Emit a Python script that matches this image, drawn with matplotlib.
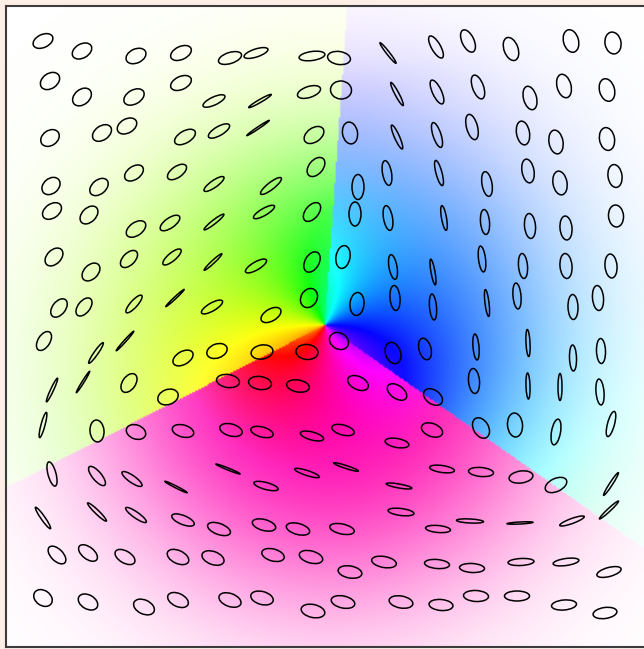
import numpy as np
import matplotlib.pyplot as plt
from matplotlib.patches import Ellipse
from matplotlib.colors import hsv_to_rgb

# polarization ellipses, read row by row (pixel coords, y down)
# tilt = visual angle of major axis in degrees, counterclockwise
x_pos = [
    43, 82, 136, 181, 230, 256, 312, 339, 388, 436, 468, 511, 571, 613,
    50, 82, 134, 181, 214, 260, 309, 341, 397, 437, 478, 530, 564, 607,
    50, 102, 127, 185, 219, 258, 314, 350, 397, 437, 472, 523, 556, 607,
    51, 99, 134, 177, 214, 271, 316, 358, 387, 439, 487, 528, 560, 615,
    52, 89, 136, 170, 214, 264, 312, 355, 388, 444, 485, 530, 566, 616,
    54, 91, 129, 172, 213, 256, 312, 343, 393, 433, 482, 523, 566, 611,
    59, 84, 134, 175, 212, 271, 309, 357, 395, 433, 487, 517, 573, 598,
    44, 96, 125, 183, 217, 262, 307, 339, 393, 425, 476, 528, 573, 601,
    52, 83, 129, 168, 228, 260, 298, 358, 397, 433, 474, 528, 560, 600,
    43, 97, 136, 183, 231, 262, 312, 343, 397, 432, 481, 515, 556, 611,
    52, 97, 132, 176, 228, 266, 307, 346, 399, 442, 481, 521, 556, 611,
    43, 97, 136, 183, 219, 264, 298, 342, 401, 438, 470, 520, 572, 609,
    57, 88, 125, 178, 213, 273, 311, 350, 384, 437, 472, 521, 566, 609,
    43, 88, 144, 178, 230, 262, 313, 343, 401, 441, 476, 517, 564, 605,
]
y_pos = [
    41, 51, 56, 53, 58, 53, 56, 58, 53, 47, 41, 49, 41, 43,
    81, 97, 97, 83, 101, 101, 92, 90, 94, 92, 87, 98, 86, 90,
    138, 133, 126, 137, 131, 128, 135, 133, 137, 135, 127, 133, 142, 139,
    186, 187, 173, 172, 184, 186, 167, 187, 173, 173, 184, 171, 183, 176,
    211, 215, 229, 223, 222, 212, 212, 214, 218, 218, 222, 226, 228, 216,
    257, 272, 259, 257, 262, 266, 262, 257, 267, 272, 259, 266, 266, 266,
    308, 307, 304, 298, 307, 315, 298, 304, 298, 307, 303, 296, 307, 298,
    341, 353, 341, 358, 351, 352, 352, 341, 353, 349, 347, 343, 358, 351,
    390, 382, 383, 397, 381, 383, 386, 383, 392, 397, 381, 386, 387, 392,
    425, 431, 432, 431, 430, 432, 436, 430, 443, 430, 428, 425, 432, 424,
    474, 476, 479, 487, 469, 486, 473, 467, 486, 469, 472, 477, 485, 484,
    518, 512, 515, 520, 529, 525, 529, 529, 512, 529, 521, 523, 521, 510,
    555, 553, 557, 557, 558, 555, 557, 572, 562, 564, 568, 562, 562, 572,
    598, 602, 607, 600, 600, 598, 611, 602, 602, 605, 596, 596, 605, 613,
]
major = [
    21, 21, 21, 22, 24, 25, 26, 23, 26, 25, 24, 24, 23, 22,
    21, 21, 22, 22, 24, 26, 24, 21, 26, 26, 25, 24, 24, 23,
    20, 21, 21, 23, 24, 27, 22, 22, 26, 26, 26, 24, 24, 23,
    20, 21, 21, 22, 24, 26, 22, 25, 25, 26, 25, 24, 24, 23,
    21, 21, 22, 23, 25, 24, 22, 24, 25, 25, 25, 25, 24, 22,
    21, 21, 21, 23, 24, 24, 22, 23, 25, 26, 26, 25, 25, 24,
    21, 21, 23, 25, 24, 22, 20, 23, 25, 26, 27, 26, 25, 25,
    21, 25, 26, 22, 21, 22, 22, 20, 22, 22, 26, 27, 26, 25,
    26, 25, 21, 21, 23, 23, 23, 22, 22, 21, 25, 26, 27, 26,
    26, 22, 20, 22, 23, 23, 24, 23, 24, 22, 22, 24, 26, 26,
    25, 24, 24, 25, 26, 25, 26, 26, 26, 25, 25, 24, 23, 27,
    26, 26, 25, 24, 24, 24, 24, 25, 26, 25, 27, 26, 26, 26,
    22, 22, 22, 23, 23, 23, 24, 24, 25, 25, 25, 26, 26, 25,
    20, 21, 22, 22, 23, 23, 24, 24, 24, 24, 25, 25, 25, 24,
]
minor = [
    13, 14, 14, 13, 11, 8, 9, 13, 3, 9, 12, 14, 15, 16,
    15, 15, 14, 13, 8, 3, 11, 18, 4, 9, 11, 13, 14, 15,
    15, 14, 14, 12, 9, 2, 14, 15, 5, 8, 11, 13, 14, 15,
    15, 14, 13, 11, 7, 7, 14, 12, 9, 6, 10, 12, 14, 14,
    14, 14, 13, 10, 4, 7, 13, 12, 9, 5, 9, 11, 12, 15,
    14, 14, 12, 8, 3, 8, 14, 14, 8, 4, 7, 9, 12, 12,
    13, 12, 7, 2, 8, 12, 16, 14, 10, 7, 4, 8, 10, 11,
    12, 4, 2, 13, 14, 14, 15, 16, 15, 12, 6, 4, 7, 9,
    3, 2, 13, 15, 13, 13, 12, 13, 13, 14, 11, 4, 4, 8,
    4, 14, 14, 12, 12, 10, 8, 10, 9, 13, 15, 15, 9, 7,
    8, 9, 7, 2, 2, 7, 5, 3, 4, 7, 9, 12, 13, 3,
    4, 4, 6, 9, 11, 11, 11, 10, 7, 7, 4, 2, 5, 3,
    12, 12, 12, 13, 13, 12, 12, 12, 11, 9, 9, 7, 7, 9,
    15, 14, 14, 13, 13, 13, 13, 12, 12, 11, 11, 10, 10, 11,
]
tilt = [
    25, 30, 25, 25, 18, 18, 8, -8, -52, -60, -65, -70, -75, -80,
    35, 40, 30, 25, 25, 30, 18, -5, -62, -65, -70, -75, -75, -75,
    35, 35, 30, 30, 30, 34, 35, -80, -66, -72, -75, -80, -80, -80,
    40, 40, 35, 35, 35, 38, 50, 90, -80, -75, -80, -80, -80, -82,
    35, 45, 35, 35, 38, 30, 50, 90, 100, 100, 95, 95, 95, 95,
    45, 45, 45, 40, 43, 30, 60, 80, 100, 100, 97, 95, 95, 95,
    52, 52, 48, 43, 30, 30, 60, 85, 95, 95, 97, 95, 92, 95,
    58, 55, 48, 30, 20, 10, -5, -30, -70, -75, 95, 93, 92, 92,
    65, 58, 55, 20, -8, -8, -10, -25, -35, -35, 95, 92, 90, 95,
    75, 95, -20, -15, -15, -15, -15, -15, -10, -20, 120, 95, 80, 75,
    105, -50, -35, -27, -22, -15, -18, -18, -10, -8, -5, 8, 25, 57,
    -55, -44, -35, -22, -20, -15, -15, -12, -7, -5, -3, 3, 20, 43,
    -45, -38, -30, -25, -20, -15, -15, -10, -10, -5, -3, 3, 8, 15,
    -35, -30, -25, -25, -20, -15, -12, -12, -10, -5, -3, 0, 5, 8,
]

# background colour field: three sectors around the singular point
center = (325, 325)
sector_edges = [-35, 86, 207, 325]             # degrees, ccw on screen
hue_near = [(275, 154), (154, 33), (33, -85)]  # hue at both edges, close in
hue_far = [(160, 270), (65, 90), (-42, -40)]   # hue at both edges, far out
far_radius = [320, 300, 150]
glow_center = (330, 365)
glow_radius = 230

lo, hi = 6, 647


def background(n=420):
    xs = np.linspace(lo, hi, n)
    X, Y = np.meshgrid(xs, xs)
    dx = X - center[0]
    dy = center[1] - Y
    r = np.hypot(dx, dy)
    phi = np.degrees(np.arctan2(dy, dx))
    phi = (phi - sector_edges[0]) % 360 + sector_edges[0]
    hue = np.zeros_like(r)
    for k in range(3):
        a, b = sector_edges[k], sector_edges[k + 1]
        m = (phi >= a) & (phi < b)
        t = (phi - a) / (b - a)
        w = np.clip(r / far_radius[k], 0, 1)
        h0 = hue_near[k][0] * (1 - w) + hue_far[k][0] * w
        h1 = hue_near[k][1] * (1 - w) + hue_far[k][1] * w
        hue[m] = (h0 + (h1 - h0) * t)[m]
    rg = np.hypot(X - glow_center[0], Y - glow_center[1])
    sat = np.exp(-(rg / glow_radius) ** 2.6)
    hsv = np.dstack([(hue % 360) / 360, sat, np.ones_like(r)])
    return hsv_to_rgb(hsv)


fig = plt.figure(figsize=(6.44, 6.49), dpi=100, facecolor='#fdeee6')
ax = fig.add_axes([6 / 644, 2 / 649, 641 / 644, 641 / 649])
ax.imshow(background(), extent=(lo, hi, hi, lo), interpolation='bilinear')

for x, y, a, b, t in zip(x_pos, y_pos, major, minor, tilt):
    # y axis is inverted, so the on-screen angle flips sign
    ax.add_patch(Ellipse((x, y), a, b, angle=-t, fill=False,
                         ec='black', lw=1.1))

ax.set_xlim(lo, hi)
ax.set_ylim(hi, lo)
ax.set_xticks([])
ax.set_yticks([])
for s in ax.spines.values():
    s.set_color('#3c3c3c')
    s.set_linewidth(1.5)

fig.savefig('out.png', dpi=100, facecolor=fig.get_facecolor())
